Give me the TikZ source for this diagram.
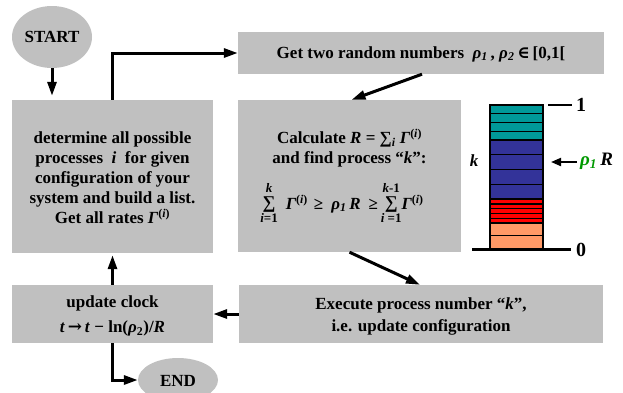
\documentclass[tikz,border=0pt]{standalone}
\usepackage{fontspec}
\setmainfont{Liberation Serif}
\newfontfamily\symfont{DejaVu Serif}
\usetikzlibrary{arrows.meta,shapes.geometric}
\definecolor{boxgray}{RGB}{192,192,192}
\definecolor{tealbar}{RGB}{0,153,153}
\definecolor{bluebar}{RGB}{51,51,153}
\definecolor{redbar}{RGB}{255,0,0}
\definecolor{orangebar}{RGB}{255,153,102}
\definecolor{rhogreen}{RGB}{0,153,0}
\newcommand\bi[1]{\textit{#1}}
\newcommand\mysum[2]{{\def\arraystretch{0.68}\begin{tabular}[c]{@{}c@{}}{\fontsize{13}{13}\selectfont #2}\\ {\fontsize{18}{18}\selectfont ∑}\\ {\fontsize{13}{13}\selectfont #1}\end{tabular}}}
\tikzset{
  box/.style={rectangle, fill=boxgray, inner sep=0pt},
  oval/.style={ellipse, fill=boxgray, inner sep=0pt},
  txt/.style={align=center, inner sep=0pt, font=\fontsize{17}{20}\selectfont\bfseries},
  arr/.style={line width=3pt, -{Triangle[length=14pt,width=9pt]}},
  thinarr/.style={line width=2pt, -{Triangle[length=10pt,width=8pt]}},
  bar/.style={draw=black, line width=1.4pt},
  numtxt/.style={anchor=west, inner sep=0pt, font=\fontsize{20}{20}\selectfont\bfseries},
}
\begin{document}
\begin{tikzpicture}[x=1pt,y=-1pt]
\useasboundingbox (0,0) rectangle (623,392);
% boxes
\node[oval, minimum width=80pt, minimum height=62pt] (start) at (52,37) {};
\node[txt] (starttxt) at (52,37) {START};
\node[box, minimum width=201pt, minimum height=153pt] (det) at (112.5,176.5) {};
\node[txt] (dettxt) at (112.5,177.5) {determine all possible\\ processes \ \bi{i} \ for given\\ configuration of your\\ system and build a list.\\ Get all rates \bi{Γ}\textsuperscript{(\bi{i})}};
\node[box, minimum width=366pt, minimum height=42pt] (rand) at (421,53) {};
\node[txt] (randtxt) at (421,54) {Get two random numbers \ \bi{ρ}\textsubscript{\bi{1}}\,, \bi{ρ}\textsubscript{\bi{2}}\,{\symfont ∈}\,[0,1[};
\node[box, minimum width=223pt, minimum height=152pt] (calc) at (349.5,176) {};
\node[txt] (calctxt) at (349.5,148.5) {Calculate \bi{R} = ∑\textsubscript{\bi{i}} \bi{Γ}\textsuperscript{(\bi{i})}\\ and find process “\bi{k}”:};
\node[txt] (formula) at (342,205) {\mysum{\bi{i}=1}{\bi{k}}\hspace{8pt}\bi{Γ}\textsuperscript{(\bi{i})}\hspace{6pt}≥\hspace{8pt}\bi{ρ}\textsubscript{\bi{1}}\,\bi{R}\hspace{8pt}≥\,\mysum{\bi{i} =1}{\bi{k}-1}\bi{Γ}\textsuperscript{(\bi{i})}};
\node[box, minimum width=364pt, minimum height=58pt] (exec) at (421,314) {};
\node[txt, font=\fontsize{17}{22}\selectfont\bfseries] (exectxt) at (421,316) {Execute process number “\bi{k}”,\\ i.e. update configuration};
\node[box, minimum width=201pt, minimum height=58pt] (clock) at (112.5,314) {};
\node[txt, font=\fontsize{17}{25}\selectfont\bfseries] (clocktxt) at (112.5,316) {update clock\\ \bi{t}\,{\symfont →}\,\bi{t} − ln(\bi{ρ}\textsubscript{2})/\bi{R}};
\node[oval, minimum width=80pt, minimum height=44pt] (end) at (178,380) {};
\node[txt] (endtxt) at (178,381) {END};
% stack
\foreach \a/\b in {105/113.75,113.75/122.5,122.5/131.25,131.25/140}
  \draw[bar, fill=tealbar] (490,\a) rectangle (543,\b);
\foreach \a/\b in {140/154.75,154.75/169.5,169.5/184.25,184.25/199}
  \draw[bar, fill=bluebar] (490,\a) rectangle (543,\b);
\foreach \a/\b in {199/203.8,203.8/208.6,208.6/213.4,213.4/218.2,218.2/223}
  \draw[bar, fill=redbar] (490,\a) rectangle (543,\b);
\foreach \a/\b in {223/235.5,235.5/249}
  \draw[bar, fill=orangebar] (490,\a) rectangle (543,\b);
\coordinate (baseL) at (472,249);
\coordinate (baseR) at (571,249);
\draw[line width=3pt] (baseL) -- (baseR);
\node[numtxt] (zero) at (576,250) {0};
\coordinate (oneL) at (548,105);
\coordinate (oneR) at (572,105);
\draw[line width=2pt] (oneL) -- (oneR);
\node[numtxt] (one) at (576,105) {1};
\node[txt] (klab) at (474,161) {\bi{k}};
\coordinate (kbar) at (551,162);
\node[txt, anchor=west, font=\fontsize{19}{19}\selectfont\bfseries] (rhoR) at (580,161) {\textcolor{rhogreen}{\bi{ρ}\textsubscript{\bi{1}}}\,\bi{R}};
\coordinate (rhoRst) at (577,162);
\draw[thinarr] (rhoRst) -- (kbar);
% connectors
\draw[arr, shorten >=4pt] (start.south) -- (start.south |- det.north);
\draw[arr] (det.north) |- (rand.west);
\draw[arr] ([xshift=1pt]rand.south) -- ([xshift=2pt]calc.north);
\draw[arr] (calc.south) -- ([xshift=-1pt]exec.north);
\draw[arr] (exec.west) -- (clock.east);
\draw[arr, shorten >=2pt] (clock.north) -- (clock.north |- det.south);
\draw[arr] (clock.south) |- (end.west);
\end{tikzpicture}
\end{document}
